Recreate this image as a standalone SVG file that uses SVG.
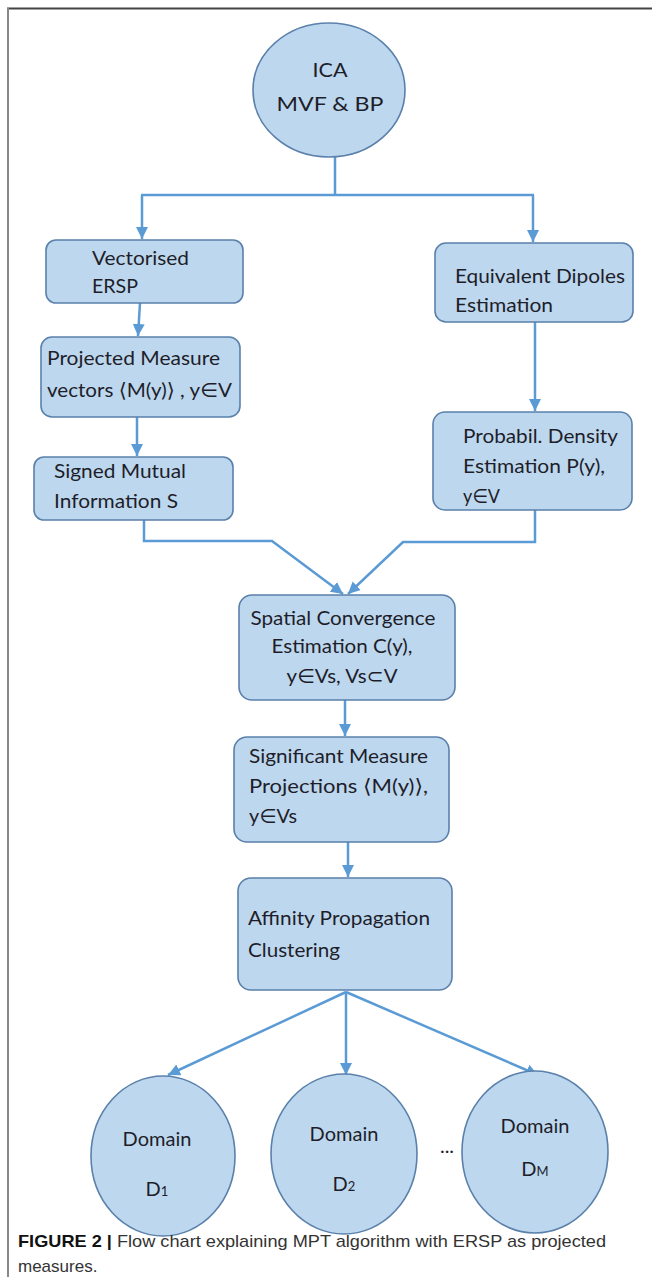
<svg xmlns="http://www.w3.org/2000/svg" width="652" height="1277" viewBox="0 0 652 1277">
<style>
.box{fill:#bdd7ee;stroke:#5a80ab;stroke-width:1.6}
.t{font-family:Lato,"Open Sans","DejaVu Sans",sans-serif;font-size:20px;fill:#1e1e2a}
.c{fill:none;stroke:#5b9bd5;stroke-width:2.5}
.cap{font-family:"Liberation Sans",Arial,sans-serif;font-size:17px;fill:#333}
</style>
<defs>
<marker id="ah" markerUnits="userSpaceOnUse" markerWidth="14" markerHeight="14" viewBox="0 0 14 14" refX="12" refY="7" orient="auto">
<path d="M0,1 L12,7 L0,13 Z" fill="#5b9bd5"/>
</marker>
</defs>
<rect x="0" y="0" width="652" height="1277" fill="#fff"/>
<line x1="7" y1="8.5" x2="652" y2="8.5" stroke="#444" stroke-width="2"/>
<line x1="8" y1="8" x2="8" y2="1277" stroke="#888" stroke-width="2"/>

<g id="connectors">
<line class="c" x1="335" y1="156" x2="335" y2="195"/>
<line class="c" x1="141" y1="195" x2="534" y2="195"/>
<line class="c" x1="142" y1="195" x2="142" y2="239" marker-end="url(#ah)"/>
<line class="c" x1="533" y1="195" x2="533" y2="242" marker-end="url(#ah)"/>
<line class="c" x1="140" y1="303" x2="138" y2="336" marker-end="url(#ah)"/>
<line class="c" x1="137" y1="417" x2="137" y2="456" marker-end="url(#ah)"/>
<polyline class="c" points="144,520 144,541 272,541 343,594" marker-end="url(#ah)"/>
<line class="c" x1="535" y1="322" x2="535" y2="411" marker-end="url(#ah)"/>
<polyline class="c" points="535,510 535,542 403,542 348,594" marker-end="url(#ah)"/>
<line class="c" x1="345" y1="700" x2="345" y2="736" marker-end="url(#ah)"/>
<line class="c" x1="348" y1="842" x2="348" y2="877" marker-end="url(#ah)"/>
<line class="c" x1="346" y1="992" x2="168" y2="1075" marker-end="url(#ah)"/>
<line class="c" x1="346" y1="992" x2="346" y2="1075" marker-end="url(#ah)"/>
<line class="c" x1="346" y1="992" x2="538" y2="1075" marker-end="url(#ah)"/>
</g>

<g id="n-ica">
<ellipse class="box" cx="329" cy="90" rx="76" ry="67"/>
<text class="t" x="330" y="77" text-anchor="middle" font-size="22" textLength="35" lengthAdjust="spacingAndGlyphs">ICA</text>
<text class="t" x="330" y="111" text-anchor="middle" font-size="22" textLength="107" lengthAdjust="spacingAndGlyphs">MVF &amp; BP</text>
</g>

<g id="n-vect">
<rect class="box" x="46" y="240" width="197" height="63" rx="10"/>
<text class="t" x="92" y="265" textLength="97" lengthAdjust="spacingAndGlyphs">Vectorised</text>
<text class="t" x="92" y="293" textLength="46" lengthAdjust="spacingAndGlyphs">ERSP</text>
</g>

<g id="n-proj">
<rect class="box" x="41" y="337" width="199" height="80" rx="11"/>
<text class="t" x="47" y="365" textLength="173" lengthAdjust="spacingAndGlyphs">Projected Measure</text>
<text class="t" x="47" y="397" textLength="185" lengthAdjust="spacingAndGlyphs">vectors ⟨M(y)⟩ , y∈V</text>
</g>

<g id="n-smi">
<rect class="box" x="34" y="457" width="199" height="63" rx="10"/>
<text class="t" x="54" y="478" textLength="132" lengthAdjust="spacingAndGlyphs">Signed Mutual</text>
<text class="t" x="54" y="508" textLength="124" lengthAdjust="spacingAndGlyphs">Information S</text>
</g>

<g id="n-dip">
<rect class="box" x="435" y="243" width="198" height="79" rx="11"/>
<text class="t" x="455" y="283" textLength="170" lengthAdjust="spacingAndGlyphs">Equivalent Dipoles</text>
<text class="t" x="455" y="312" textLength="98" lengthAdjust="spacingAndGlyphs">Estimation</text>
</g>

<g id="n-prob">
<rect class="box" x="433" y="412" width="199" height="98" rx="12"/>
<text class="t" x="463" y="443" textLength="155" lengthAdjust="spacingAndGlyphs">Probabil. Density</text>
<text class="t" x="463" y="473" textLength="142" lengthAdjust="spacingAndGlyphs">Estimation P(y),</text>
<text class="t" x="463" y="503" textLength="37" lengthAdjust="spacingAndGlyphs">y∈V</text>
</g>

<g id="n-spat">
<rect class="box" x="239" y="595" width="216" height="105" rx="13"/>
<text class="t" x="343" y="625" text-anchor="middle" textLength="185" lengthAdjust="spacingAndGlyphs">Spatial Convergence</text>
<text class="t" x="342" y="653" text-anchor="middle" textLength="141" lengthAdjust="spacingAndGlyphs">Estimation C(y),</text>
<text class="t" x="342" y="683" text-anchor="middle" textLength="111" lengthAdjust="spacingAndGlyphs">y∈Vs, Vs⊂V</text>
</g>

<g id="n-sig">
<rect class="box" x="234" y="737" width="215" height="105" rx="13"/>
<text class="t" x="249" y="763" textLength="179" lengthAdjust="spacingAndGlyphs">Significant Measure</text>
<text class="t" x="249" y="793" textLength="179" lengthAdjust="spacingAndGlyphs">Projections ⟨M(y)⟩,</text>
<text class="t" x="249" y="823" textLength="48" lengthAdjust="spacingAndGlyphs">y∈Vs</text>
</g>

<g id="n-aff">
<rect class="box" x="238" y="878" width="214" height="112" rx="13"/>
<text class="t" x="248" y="925" textLength="182" lengthAdjust="spacingAndGlyphs">Affinity Propagation</text>
<text class="t" x="248" y="957" textLength="92" lengthAdjust="spacingAndGlyphs">Clustering</text>
</g>

<g id="n-d1">
<ellipse class="box" cx="163" cy="1156" rx="72" ry="80"/>
<text class="t" x="157" y="1146" text-anchor="middle">Domain</text>
<text class="t" x="157" y="1196" text-anchor="middle">D<tspan font-size="13">1</tspan></text>
</g>

<g id="n-d2">
<ellipse class="box" cx="344" cy="1154" rx="73" ry="80"/>
<text class="t" x="344" y="1141" text-anchor="middle">Domain</text>
<text class="t" x="344" y="1191" text-anchor="middle">D<tspan font-size="13">2</tspan></text>
</g>

<text class="t" x="447" y="1153" text-anchor="middle" font-size="18">...</text>

<g id="n-dm">
<ellipse class="box" cx="535" cy="1152" rx="73" ry="81"/>
<text class="t" x="535" y="1133" text-anchor="middle">Domain</text>
<text class="t" x="535" y="1176" text-anchor="middle">D<tspan font-size="13">M</tspan></text>
</g>

<text class="cap" x="18" y="1247" textLength="588" lengthAdjust="spacingAndGlyphs"><tspan font-weight="bold" fill="#111">FIGURE 2 |</tspan> Flow chart explaining MPT algorithm with ERSP as projected</text>
<text class="cap" x="18" y="1272">measures.</text>
</svg>
